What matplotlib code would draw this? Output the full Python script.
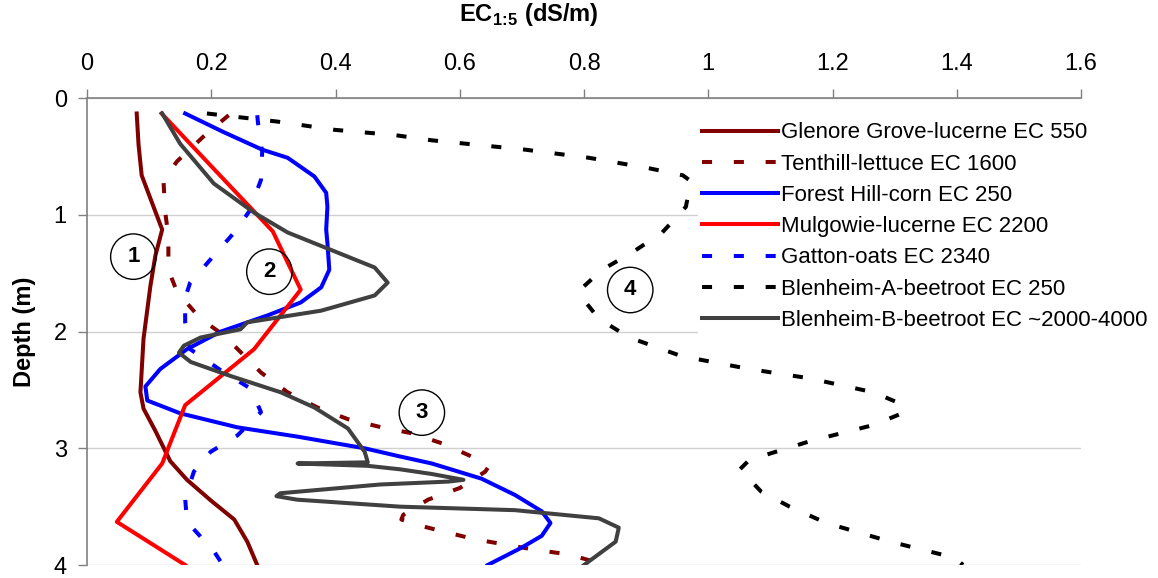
import numpy as np
import matplotlib.pyplot as plt

plt.rcParams['font.family'] = ['Liberation Sans', 'DejaVu Sans']
plt.rcParams['mathtext.fontset'] = 'custom'
plt.rcParams['mathtext.bf'] = 'Liberation Sans:bold'

# EC1:5 (dS/m) vs depth (m) for each site
glenore_ec = [0.080, 0.083, 0.088, 0.105, 0.121, 0.110, 0.102, 0.091, 0.086, 0.091, 0.110, 0.134,
              0.161, 0.200, 0.237, 0.258, 0.274]
glenore_d = [0.13, 0.40, 0.66, 0.90, 1.125, 1.35, 1.61, 2.06, 2.52, 2.66, 2.85, 3.11,
             3.27, 3.45, 3.61, 3.80, 4.0]

tenthill_ec = [0.228, 0.187, 0.145, 0.123, 0.126, 0.131, 0.131, 0.145, 0.183, 0.220, 0.280, 0.323,
               0.371, 0.420, 0.474, 0.522, 0.573, 0.619, 0.646, 0.641, 0.600, 0.549, 0.509, 0.506,
               0.527, 0.571, 0.625, 0.722, 0.776, 0.835]
tenthill_d = [0.145, 0.33, 0.54, 0.70, 0.98, 1.18, 1.47, 1.66, 1.89, 2.03, 2.35, 2.52,
              2.65, 2.75, 2.82, 2.87, 2.96, 3.07, 3.16, 3.20, 3.34, 3.44, 3.57, 3.61,
              3.65, 3.71, 3.78, 3.87, 3.91, 4.0]

foresthill_ec = [0.158, 0.220, 0.282, 0.323, 0.366, 0.385, 0.387, 0.385, 0.387, 0.390, 0.377, 0.344,
                 0.291, 0.215, 0.161, 0.118, 0.094, 0.097, 0.150, 0.242, 0.339, 0.447, 0.504,
                 0.555, 0.635, 0.689, 0.732, 0.746, 0.732, 0.700, 0.645]
foresthill_d = [0.13, 0.29, 0.44, 0.51, 0.67, 0.81, 0.93, 1.125, 1.24, 1.47, 1.62, 1.75,
                1.86, 2.0, 2.15, 2.32, 2.47, 2.59, 2.70, 2.82, 2.90, 3.0, 3.07,
                3.13, 3.26, 3.40, 3.54, 3.64, 3.75, 3.85, 4.0]

mulgowie_ec = [0.120, 0.299, 0.344, 0.269, 0.158, 0.121, 0.048, 0.158]
mulgowie_d = [0.13, 1.14, 1.64, 2.15, 2.63, 3.13, 3.63, 4.0]

gatton_ec = [0.274, 0.276, 0.282, 0.280, 0.261, 0.237, 0.199, 0.166, 0.158, 0.158, 0.166, 0.215,
             0.264, 0.280, 0.242, 0.199, 0.172, 0.158, 0.161, 0.204, 0.215]
gatton_d = [0.145, 0.25, 0.46, 0.70, 0.97, 1.15, 1.38, 1.58, 1.71, 1.92, 2.15, 2.33,
            2.49, 2.69, 2.89, 3.03, 3.20, 3.43, 3.63, 3.88, 3.97]

blenheim_a_ec = [0.193, 0.307, 0.398, 0.495, 0.555, 0.705, 0.808, 0.905, 0.959, 0.972, 0.964, 0.926,
                 0.878, 0.829, 0.794, 0.797, 0.824, 0.873, 0.957, 1.066, 1.163, 1.266, 1.315, 1.312,
                 1.266, 1.163, 1.066, 1.051, 1.085, 1.131, 1.190, 1.293, 1.398, 1.41]
blenheim_a_d = [0.13, 0.20, 0.27, 0.315, 0.36, 0.44, 0.51, 0.60, 0.66, 0.71, 0.93, 1.15,
                1.32, 1.47, 1.64, 1.71, 1.89, 2.05, 2.21, 2.32, 2.40, 2.52, 2.63, 2.70,
                2.80, 2.94, 3.10, 3.18, 3.37, 3.50, 3.64, 3.80, 3.94, 4.0]

blenheim_b_ec = [0.121, 0.150, 0.204, 0.269, 0.323, 0.393, 0.463, 0.484, 0.463, 0.377, 0.258, 0.247,
                 0.183, 0.156, 0.148, 0.167, 0.231, 0.312, 0.366, 0.420, 0.447, 0.452, 0.339, 0.452,
                 0.504, 0.555, 0.606, 0.582, 0.472, 0.311, 0.305, 0.338, 0.504, 0.689, 0.824, 0.856,
                 0.851, 0.80]
blenheim_b_d = [0.13, 0.39, 0.73, 0.98, 1.15, 1.30, 1.45, 1.58, 1.69, 1.82, 1.92, 1.98,
                2.05, 2.12, 2.18, 2.26, 2.38, 2.52, 2.65, 2.83, 3.03, 3.12, 3.13, 3.15,
                3.18, 3.22, 3.27, 3.285, 3.31, 3.385, 3.41, 3.44, 3.50, 3.53, 3.60, 3.68,
                3.80, 4.0]

labels = ['Glenore Grove-lucerne EC 550', 'Tenthill-lettuce EC 1600', 'Forest Hill-corn EC 250',
          'Mulgowie-lucerne EC 2200', 'Gatton-oats EC 2340', 'Blenheim-A-beetroot EC 250',
          'Blenheim-B-beetroot EC ~2000-4000']

# circled group numbers and where they sit
group_names = ['1', '2', '3', '4']
group_pos = [(0.0746, 1.357), (0.2936, 1.486), (0.539, 2.694), (0.8744, 1.643)]

fig = plt.figure(figsize=(11.58, 5.78), dpi=100)
ax = fig.add_axes([0.07513, 0.02249, 0.85838, 0.80744])

lw = 2.9
dash = (2.5, 5.4)
ax.plot(glenore_ec, glenore_d, color='#800000', lw=lw, label=labels[0])
ax.plot(tenthill_ec, tenthill_d, color='#800000', lw=lw, dashes=dash, label=labels[1])
ax.plot(foresthill_ec, foresthill_d, color='#0000ff', lw=lw, label=labels[2])
ax.plot(mulgowie_ec, mulgowie_d, color='#ff0000', lw=lw, label=labels[3])
ax.plot(gatton_ec, gatton_d, color='#0000ff', lw=lw, dashes=dash, label=labels[4])
ax.plot(blenheim_a_ec, blenheim_a_d, color='#000000', lw=lw, dashes=dash, label=labels[5])
ax.plot(blenheim_b_ec, blenheim_b_d, color='#404040', lw=lw, label=labels[6])

for name, (x, y) in zip(group_names, group_pos):
    ax.text(x, y, name, fontsize=16, fontweight='bold', ha='center', va='center',
            bbox=dict(boxstyle='circle,pad=0.55', fc='none', ec='black', lw=1), zorder=5)

ax.set_xlim(0, 1.6)
ax.set_ylim(4, 0)
ax.set_xticks(np.arange(0, 1.61, 0.2))
ax.set_xticklabels(['0', '0.2', '0.4', '0.6', '0.8', '1', '1.2', '1.4', '1.6'])
ax.set_yticks([0, 1, 2, 3, 4])
ax.xaxis.tick_top()
ax.tick_params(axis='x', direction='out', length=6.5, width=1, color='#808080', pad=10, labelsize=17)
ax.tick_params(axis='y', direction='out', length=6.5, width=1, color='#808080', pad=8, labelsize=17)
ax.grid(axis='y', color='#d0d0d0', lw=1)
ax.set_axisbelow(True)
for s in ['right', 'bottom']:
    ax.spines[s].set_visible(False)
for s in ['left', 'top']:
    ax.spines[s].set_color('#808080')
    ax.spines[s].set_linewidth(1.2)

fig.text(529 / 1158, 1 - 14 / 578, r'EC$_{\mathbf{1}\!\mathbf{:}\!\mathbf{5}}$ (dS/m)', fontsize=17,
         fontweight='bold', ha='center', va='center')
fig.text(25 / 1158, 1 - 331.7 / 578, 'Depth (m)', fontsize=17, fontweight='bold',
         ha='center', va='center', rotation=90)

leg = fig.legend(loc='upper left', bbox_to_anchor=(697.7 / 1158, 1 - 118 / 578), fontsize=16,
                 frameon=True, facecolor='white', edgecolor='none', framealpha=1, fancybox=False,
                 borderpad=0.2, borderaxespad=0, handlelength=3.4, handletextpad=0.17,
                 labelspacing=0.46)

fig.savefig('out.png', dpi=100)
